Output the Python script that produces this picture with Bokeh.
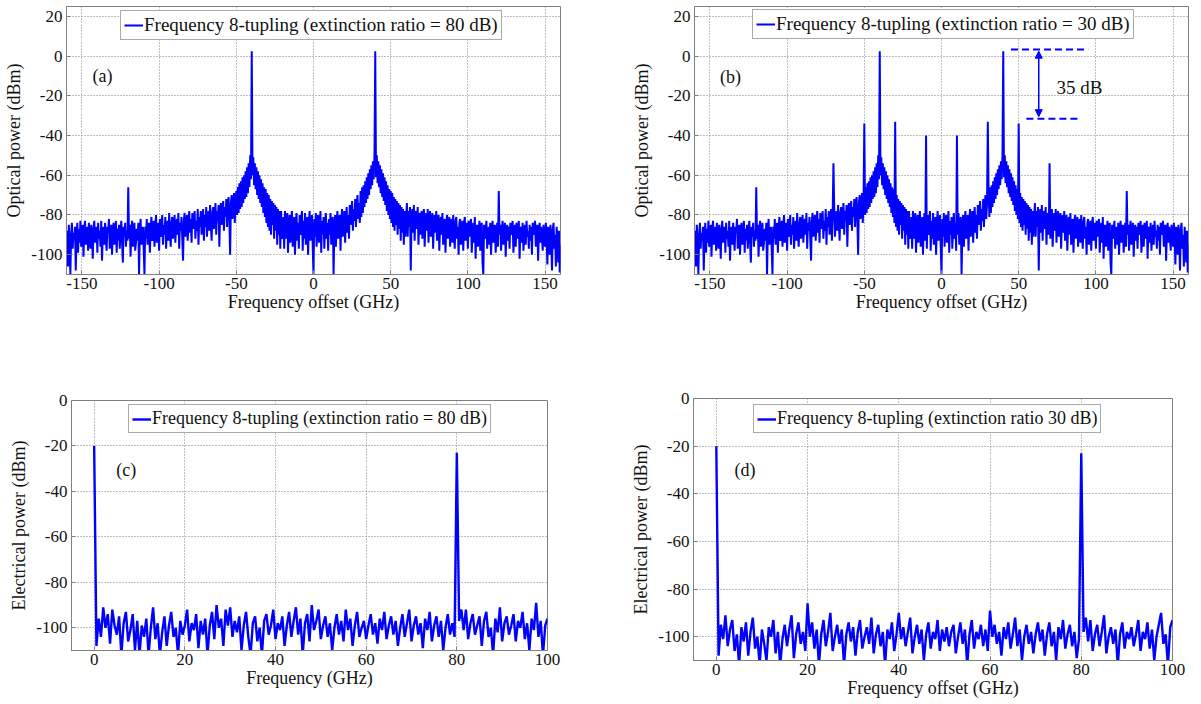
import numpy as np
from bokeh.plotting import figure
from bokeh.layouts import column, row
from bokeh.models import FixedTicker, Legend, LegendItem, Label, Arrow, NormalHead
from bokeh.embed import file_html
from bokeh.resources import INLINE

# ---------------- data ----------------
# optical spectra, 0.5 GHz sampling from -160 to 160 GHz
opt_freq = np.arange(-160, 160.5, 0.5)
opt_power_a = [
    -100, -88, -106, -85, -95, -110, -90, -84, -97, -89, -93, -86, -108, -91, -84, -99, -87, -94, -83, -96,
    -90, -85, -101, -88, -83, -95, -92, -86, -98, -84, -91, -97, -85, -89, -102, -87, -83, -94, -90, -86,
    -99, -84, -92, -88, -96, -83, -103, -90, -86, -95, -84, -91, -98, -86, -89, -82, -97, -92, -85, -100,
    -88, -84, -95, -90, -83, -99, -87, -93, -85, -97, -89, -83, -94, -104, -86, -91, -84, -96, -88, -93,
    -66, -92, -85, -101, -88, -83, -96, -90, -84, -98, -94, -87, -93, -84, -110, -89, -82, -95, -91, -86,
    -97, -110, -86, -92, -82, -95, -88, -84, -99, -87, -81, -93, -90, -83, -96, -86, -80, -94, -89, -84,
    -98, -82, -91, -87, -80, -95, -85, -90, -81, -97, -88, -83, -93, -79, -89, -96, -84, -81, -92, -87,
    -80, -94, -86, -82, -90, -79, -97, -84, -88, -81, -92, -103, -83, -79, -91, -86, -80, -93, -85, -78,
    -89, -82, -94, -79, -87, -84, -78, -92, -83, -88, -77, -95, -81, -86, -78, -90, -84, -77, -93, -80,
    -86, -76, -91, -82, -78, -88, -75, -84, -93, -79, -76, -87, -81, -74, -90, -78, -83, -75, -96, -80,
    -74, -85, -79, -73, -88, -76, -81, -72, -86, -75, -71, -83, -100, -74, -70, -82, -77, -69, -84, -73,
    -68, -80, -66, -79, -64, -77, -63, -76, -61, -74, -60, -72, -58, -71, -56, -69, -54, -66, -50, -62,
    2.5, -60, -51, -65, -54, -67, -56, -70, -58, -72, -60, -74, -62, -76, -64, -79, -66, -81, -67, -84,
    -69, -86, -70, -88, -72, -90, -73, -85, -74, -92, -75, -88, -76, -95, -77, -90, -78, -97, -78, -92,
    -89, -81, -97, -78, -92, -84, -79, -99, -86, -80, -94, -83, -78, -96, -88, -81, -100, -85, -79, -93,
    -84, -97, -80, -90, -86, -78, -98, -83, -92, -79, -95, -87, -81, -100, -84, -78, -93, -89, -80, -96,
    -110, -82, -91, -79, -96, -85, -80, -94, -88, -78, -99, -83, -90, -81, -97, -86, -79, -92, -84, -98,
    -82, -90, -79, -95, -85, -81, -110, -88, -80, -96, -84, -78, -92, -87, -80, -98, -83, -77, -91, -85,
    -78, -94, -82, -76, -89, -80, -92, -75, -85, -79, -73, -88, -77, -83, -72, -86, -75, -70, -82, -74,
    -84, -68, -81, -66, -79, -65, -76, -63, -74, -61, -72, -59, -70, -57, -67, -55, -65, -53, -62, -50,
    2.5, -61, -50, -64, -53, -66, -55, -69, -57, -71, -59, -73, -61, -75, -63, -78, -65, -80, -67, -82,
    -68, -84, -69, -86, -71, -88, -72, -85, -73, -90, -74, -87, -75, -93, -76, -89, -77, -95, -78, -91,
    -83, -74, -91, -78, -86, -76, -108, -81, -77, -89, -75, -93, -80, -78, -87, -76, -95, -82, -79, -90,
    -78, -92, -81, -77, -96, -84, -79, -88, -77, -94, -82, -78, -91, -85, -79, -97, -83, -80, -89, -78,
    -93, -84, -80, -98, -86, -81, -90, -79, -95, -87, -82, -99, -84, -80, -92, -88, -81, -96, -85, -82,
    -94, -80, -89, -97, -83, -81, -92, -86, -100, -84, -82, -95, -88, -83, -98, -85, -81, -93, -89, -84,
    -97, -83, -91, -86, -82, -99, -88, -84, -94, -81, -102, -87, -85, -96, -90, -83, -98, -86, -84, -104,
    -110, -85, -92, -88, -83, -97, -90, -86, -95, -84, -100, -89, -83, -94, -87, -85, -99, -91, -84, -96,
    -68, -90, -85, -98, -87, -83, -95, -91, -84, -101, -88, -85, -93, -86, -97, -84, -90, -87, -83, -99,
    -89, -85, -96, -84, -92, -88, -83, -102, -87, -86, -94, -84, -98, -90, -85, -95, -83, -91, -88, -97,
    -85, -93, -86, -100, -84, -90, -88, -83, -96, -87, -85, -103, -89, -84, -94, -86, -92, -98, -85, -90,
    -96, -84, -91, -105, -86, -88, -100, -85, -93, -108, -87, -84, -97, -90, -106, -86, -92, -104, -88, -109,
    -95,
]
# extra sidebands present with 30 dB extinction ratio
spur_freq_b = [-120, -70, -50, -30, -10, 10, 30, 50, 70, 120]
spur_level_b = [-66, -54, -34, -33, -40, -40, -33, -34, -54, -68]
opt_power_b = list(opt_power_a)
_fl = [float(f) for f in opt_freq]
for f, lv in zip(spur_freq_b, spur_level_b):
    opt_power_b[_fl.index(float(f))] = lv

# electrical spectra, 0.5 GHz sampling from 0 to 100 GHz
elec_freq = np.arange(0, 100.5, 0.5)
elec_power_c = [
    -20, -108,
    -96, -104, -91, -100, -94, -107, -92, -99, -103, -95, -112, -98, -93, -106, -101, -94, -110, -97, -112, -99,
    -104, -96, -112, -100, -91, -105, -98, -112, -102, -95, -108, -99, -93, -104, -100, -112, -97, -103, -99, -92,
    -106, -98, -101, -94, -109, -97, -103, -96, -112, -99, -93, -105, -90, -100, -96, -108, -92, -99, -91, -104,
    -97, -102, -95, -110, -99, -93, -104, -112, -98, -95, -106, -100, -112, -97, -94, -103, -99, -92, -105, -98,
    -101, -95, -108, -99, -93, -104, -97, -91, -103, -96, -112, -98, -94, -106, -90, -101, -97, -92, -105, -99,
    -95, -104, -98, -110, -100, -94, -103, -97, -106, -92, -101, -96, -108, -99, -93, -104, -100, -97, -105, -99,
    -94, -103, -98, -107, -96, -101, -93, -105, -99, -95, -103, -97, -108, -100, -94, -104, -98, -92, -106, -99,
    -95, -103, -98, -109, -96, -101, -93, -106, -99, -95, -104, -97, -110, -100, -94, -103, -98, -104,
    -23,
    -97, -92, -101, -92, -105, -98, -94, -103, -99, -95, -108, -97, -93, -104, -100, -112, -96, -102, -91, -106, -98,
    -95, -103, -99, -94, -106, -97, -100, -93, -105, -98, -110, -96, -101, -89, -104, -97, -112, -99, -96,
]
elec_power_d = [
    -20, -108,
    -95, -101, -91, -104, -97, -93, -106, -99, -112, -96, -102, -94, -108, -98, -92, -105, -100, -112, -97, -103,
    -110, -96, -100, -93, -107, -98, -112, -101, -95, -104, -97, -91, -109, -99, -94, -103, -98, -106, -86, -100,
    -94, -105, -97, -112, -99, -93, -104, -98, -90, -106, -100, -95, -103, -97, -112, -99, -94, -102, -96, -108,
    -98, -93, -105, -100, -96, -103, -92, -107, -99, -95, -104, -98, -112, -97, -101, -94, -106, -99, -90, -101,
    -96, -104, -98, -92, -107, -100, -95, -103, -97, -110, -99, -94, -105, -98, -101, -93, -106, -97, -102, -96,
    -104, -98, -95, -107, -100, -94, -103, -97, -112, -99, -93, -105, -98, -101, -95, -104, -97, -106, -89, -100,
    -95, -103, -98, -108, -96, -101, -94, -105, -99, -92, -104, -97, -110, -100, -95, -103, -98, -107, -99, -94,
    -102, -97, -108, -99, -94, -104, -98, -110, -96, -101, -93, -105, -99, -95, -104, -98, -109, -101,
    -23,
    -98, -92, -102, -93, -106, -99, -95, -104, -98, -91, -107, -100, -96, -103, -97, -112, -99, -94, -105, -98, -101,
    -96, -104, -99, -93, -106, -98, -101, -94, -105, -97, -110, -100, -95, -90, -103, -99, -112, -96, -93,
]

opt_xticks = [-150, -100, -50, 0, 50, 100, 150]
opt_yticks = [-100, -80, -60, -40, -20, 0, 20]
elec_xticks = [0, 20, 40, 60, 80, 100]
elec_yticks = [-100, -80, -60, -40, -20, 0]

legend_a = "Frequency 8-tupling (extinction ratio = 80 dB)"
legend_b = "Frequency 8-tupling (extinction ratio = 30 dB)"
legend_c = "Frequency 8-tupling (extinction ratio = 80 dB)"
legend_d = "Frequency 8-tupling (extinction ratio 30 dB)"

# ---------------- styling ----------------
FONT = "Liberation Serif"
BLUE = "#0000ff"
GREY = "#808080"


def make_fig(w, h, left, right, top, bottom, xr, yr, xt, yt, xlabel, ylabel):
    p = figure(width=w, height=h, x_range=xr, y_range=yr, output_backend="svg",
               toolbar_location=None, min_border_left=left, min_border_right=right,
               min_border_top=top, min_border_bottom=bottom)
    p.xaxis.ticker = FixedTicker(ticks=xt)
    p.yaxis.ticker = FixedTicker(ticks=yt)
    p.xaxis.major_label_overrides = {t: str(t) for t in xt}
    p.yaxis.major_label_overrides = {t: str(t) for t in yt}
    p.xaxis.axis_label = xlabel
    p.yaxis.axis_label = ylabel
    for ax in (p.xaxis[0], p.yaxis[0]):
        ax.axis_label_text_font = FONT
        ax.axis_label_text_font_style = "normal"
        ax.axis_label_text_font_size = "18px"
        ax.axis_label_text_color = "#111111"
        ax.major_label_text_font = FONT
        ax.major_label_text_font_size = "17px"
        ax.major_label_text_color = "#111111"
        ax.axis_line_color = GREY
        ax.major_tick_line_color = GREY
        ax.major_tick_in = 4
        ax.major_tick_out = 0
        ax.minor_tick_line_color = None
        ax.major_label_standoff = 4
    p.xaxis[0].axis_label_standoff = 0
    p.xaxis[0].major_label_standoff = 3
    p.yaxis[0].axis_label_standoff = 4
    p.grid.grid_line_color = GREY
    p.grid.grid_line_dash = "1 2"
    p.grid.grid_line_width = 1
    p.outline_line_color = GREY
    p.outline_line_width = 1
    p.background_fill_color = "white"
    return p


def add_legend(p, r, text, loc, size):
    leg = Legend(items=[LegendItem(label=text, renderers=[r])], location=loc,
                 margin=0, padding=3, spacing=0, glyph_width=19, glyph_height=18,
                 label_height=18, label_standoff=1, label_text_font=FONT,
                 label_text_font_size=size, label_text_color="#111111",
                 border_line_color="#555555", border_line_width=1,
                 background_fill_color="white", background_fill_alpha=1)
    p.add_layout(leg)


def panel_label(p, x, y, text):
    p.add_layout(Label(x=x, y=y, text=text, text_font=FONT, text_font_size="18px",
                       text_align="center", text_baseline="middle", text_color="#111111"))


# (a)
pa = make_fig(600, 340, 66, 40, 6, 66, (-160, 160), (-110, 25), opt_xticks, opt_yticks,
              "Frequency offset (GHz)", "Optical power (dBm)")
ra = pa.line(opt_freq, opt_power_a, line_color=BLUE, line_width=2)
add_legend(pa, ra, legend_a, (54, 234), "19px")
panel_label(pa, -136.7, -10, "(a)")

# (b)
pb = make_fig(601, 340, 94, 13, 6, 66, (-160, 160), (-110, 25), opt_xticks, opt_yticks,
              "Frequency offset (GHz)", "Optical power (dBm)")
rb = pb.line(opt_freq, opt_power_b, line_color=BLUE, line_width=2)
add_legend(pb, rb, legend_b, (58, 235), "19px")
panel_label(pb, -136.7, -10.7, "(b)")
# 35 dB annotation
pb.add_layout(Arrow(end=None, x_start=45, y_start=3.4, x_end=95, y_end=3.4,
                    line_color=BLUE, line_width=2, line_dash="7 4"))
pb.add_layout(Arrow(end=None, x_start=55, y_start=-31.5, x_end=89, y_end=-31.5,
                    line_color=BLUE, line_width=2, line_dash="7 4"))
pb.add_layout(Arrow(start=NormalHead(size=7, fill_color=BLUE, line_color=BLUE),
                    end=NormalHead(size=7, fill_color=BLUE, line_color=BLUE),
                    x_start=63, y_start=2.5, x_end=63, y_end=-30.5,
                    line_color=BLUE, line_width=1.5))
pb.add_layout(Label(x=74.5, y=-16, text="35 dB", text_font=FONT, text_font_size="19px",
                    text_baseline="middle", text_color="#111111"))

# (c)
pc = make_fig(600, 364, 71, 53, 60, 54, (-5, 100), (-110, 0), elec_xticks, elec_yticks,
              "Frequency (GHz)", "Electrical power (dBm)")
rc = pc.line(elec_freq, elec_power_c, line_color=BLUE, line_width=2.4)
add_legend(pc, rc, legend_c, (57, 217), "18px")
panel_label(pc, 7.1, -30.5, "(c)")

# (d)
pd_ = make_fig(601, 364, 93, 29, 58, 44, (-5, 100), (-110, 0), elec_xticks, elec_yticks,
               "Frequency offset (GHz)", "Electrical power (dBm)")
rd = pd_.line(elec_freq, elec_power_d, line_color=BLUE, line_width=2.4)
add_legend(pd_, rd, legend_d, (60, 227), "18px")
panel_label(pd_, 6.3, -30, "(d)")

layout = column(row(column(pa), column(pb)), row(column(pc), column(pd_)))
open("out.html", "w").write(file_html(layout, INLINE))
